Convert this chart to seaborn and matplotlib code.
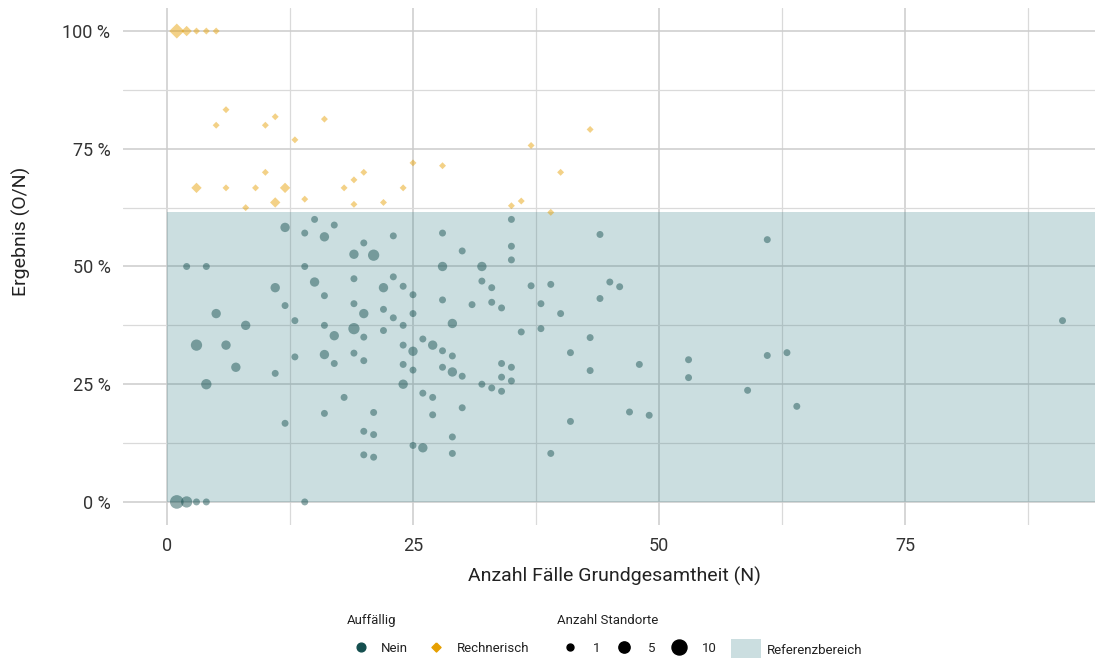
import pandas as pd
import seaborn as sns
import matplotlib.pyplot as plt
from matplotlib.lines import Line2D
from matplotlib.patches import Patch
from matplotlib.ticker import MultipleLocator, FuncFormatter

# Rechnerisch auffällig (Rauten): N, Ergebnis O/N in %, Anzahl Standorte
rech_n = [1, 2, 3, 4, 5, 6, 5, 10, 11, 16,
          13, 3, 6, 9, 10, 12, 8, 11, 14, 18,
          19, 20, 19, 22, 24, 25, 28, 43, 37, 40,
          35, 36, 39]
rech_pct = [100, 100, 100, 100, 100, 83.3, 80.0, 80.0, 81.8, 81.3,
            76.9, 66.7, 66.7, 66.7, 70.0, 66.7, 62.5, 63.6, 64.3, 66.7,
            68.4, 70.0, 63.2, 63.6, 66.7, 72.0, 71.4, 79.1, 75.7, 70.0,
            62.9, 63.9, 61.5]
rech_sites = [10, 4, 1, 1, 1, 1, 1, 1, 1, 1,
              1, 4, 1, 1, 1, 4, 1, 4, 1, 1,
              1, 1, 1, 1, 1, 1, 1, 1, 1, 1,
              1, 1, 1]

# nicht auffällig (Kreise)
nein_n = [12, 15, 17, 14, 16, 20, 23, 28, 19, 21,
          2, 4, 14, 28, 15, 19, 22, 24, 25, 28,
          11, 16, 12, 19, 22, 23, 25, 20, 5, 8,
          13, 16, 19, 17, 20, 22, 24, 25, 24, 26,
          27, 28, 29, 29, 3, 6, 13, 16, 19, 20,
          7, 11, 4, 17, 24, 25, 24, 28, 29, 26,
          27, 30, 27, 18, 16, 21, 12, 20, 21, 25,
          26, 29, 29, 20, 21, 1, 2, 3, 4, 14,
          35, 35, 35, 30, 32, 44, 61, 32, 33, 37,
          39, 45, 46, 44, 31, 33, 34, 38, 40, 36,
          38, 43, 41, 30, 34, 35, 34, 35, 32, 33,
          34, 43, 48, 53, 53, 61, 63, 59, 64, 47,
          49, 41, 39, 91, 23]
nein_pct = [58.3, 60.0, 58.8, 57.1, 56.3, 55.0, 56.5, 57.1, 52.6, 52.4,
            50.0, 50.0, 50.0, 50.0, 46.7, 47.4, 45.5, 45.8, 44.0, 42.9,
            45.5, 43.8, 41.7, 42.1, 40.9, 39.1, 40.0, 40.0, 40.0, 37.5,
            38.5, 37.5, 36.8, 35.3, 35.0, 36.4, 37.5, 32.0, 33.3, 34.6,
            33.3, 32.1, 31.0, 37.9, 33.3, 33.3, 30.8, 31.3, 31.6, 30.0,
            28.6, 27.3, 25.0, 29.4, 29.2, 28.0, 25.0, 28.6, 27.6, 23.1,
            22.2, 20.0, 18.5, 22.2, 18.8, 19.0, 16.7, 15.0, 14.3, 12.0,
            11.5, 13.8, 10.3, 10.0, 9.5, 0, 0, 0, 0, 0,
            60.0, 54.3, 51.4, 53.3, 50.0, 56.8, 55.7, 46.9, 45.5, 45.9,
            46.2, 46.7, 45.7, 43.2, 41.9, 42.4, 41.2, 42.1, 40.0, 36.1,
            36.8, 34.9, 31.7, 26.7, 29.4, 28.6, 26.5, 25.7, 25.0, 24.2,
            23.5, 27.9, 29.2, 30.2, 26.4, 31.1, 31.7, 23.7, 20.3, 19.1,
            18.4, 17.1, 10.3, 38.5, 47.8]
nein_sites = [3, 1, 1, 1, 3, 1, 1, 1, 3, 5,
              1, 1, 1, 3, 3, 1, 3, 1, 1, 1,
              3, 1, 1, 1, 1, 1, 1, 3, 3, 3,
              1, 1, 5, 3, 1, 1, 1, 3, 1, 1,
              3, 1, 1, 3, 5, 3, 1, 3, 1, 1,
              3, 1, 4, 1, 1, 1, 3, 1, 3, 1,
              1, 1, 1, 1, 1, 1, 1, 1, 1, 1,
              3, 1, 1, 1, 1, 8, 5, 1, 1, 1,
              1, 1, 1, 1, 3, 1, 1, 1, 1, 1,
              1, 1, 1, 1, 1, 1, 1, 1, 1, 1,
              1, 1, 1, 1, 1, 1, 1, 1, 1, 1,
              1, 1, 1, 1, 1, 1, 1, 1, 1, 1,
              1, 1, 1, 1, 1]

# Referenzbereich (Ergebnis <= 61,6 %)
ref_low, ref_high = 0, 61.6
x_ticks = [0, 25, 50, 75]
y_ticks = [0, 25, 50, 75, 100]
legend_sizes = [1, 5, 10]

COL_NEIN = '#154f4f'
COL_RECH = '#e69f00'
COL_REF = '#337d85'
SIZE_RANGE = (25, 117)

df = pd.concat([
    pd.DataFrame({'N': nein_n, 'Ergebnis': nein_pct, 'Standorte': nein_sites, 'Auffällig': 'Nein'}),
    pd.DataFrame({'N': rech_n, 'Ergebnis': rech_pct, 'Standorte': rech_sites, 'Auffällig': 'Rechnerisch'}),
], ignore_index=True)

sns.set_style('white')
plt.rcParams['font.family'] = ['Roboto', 'DejaVu Sans']

fig = plt.figure(figsize=(10.95, 6.58), dpi=100)
ax = fig.add_axes([0.1123, 0.2014, 0.8877, 0.7872])

diamond = [(0, 1), (1, 0), (0, -1), (-1, 0), (0, 1)]

ax.fill_between([0, 200], ref_low, ref_high, color=COL_REF, alpha=0.25, lw=0, zorder=1)
sns.scatterplot(data=df, x='N', y='Ergebnis', hue='Auffällig', style='Auffällig',
                size='Standorte', palette={'Nein': COL_NEIN, 'Rechnerisch': COL_RECH},
                markers={'Nein': 'o', 'Rechnerisch': diamond},
                sizes=SIZE_RANGE, size_norm=(1, 10), alpha=0.47, linewidth=0,
                legend=False, ax=ax, zorder=2)

ax.set_xlim(-4.47, 94.3)
ax.set_ylim(-5, 105)
ax.set_xticks(x_ticks)
ax.set_yticks(y_ticks)
ax.xaxis.set_minor_locator(MultipleLocator(12.5))
ax.yaxis.set_minor_locator(MultipleLocator(12.5))
ax.yaxis.set_major_formatter(FuncFormatter(lambda v, p: f'{v:.0f} %'))
ax.set_axisbelow(True)
ax.grid(which='major', color='#cccccc', lw=1.1)
ax.grid(which='minor', color='#dadada', lw=0.9)
sns.despine(ax=ax, left=True, bottom=True)
ax.tick_params(axis='both', which='both', length=0, labelsize=13, labelcolor='#333333')
ax.tick_params(axis='y', pad=9)
ax.tick_params(axis='x', pad=8)

ax.set_xlabel('Anzahl Fälle Grundgesamtheit (N)', fontsize=14, color='#222222')
ax.set_ylabel('Ergebnis (O/N)', fontsize=14, color='#222222')
ax.xaxis.set_label_coords(0.506, -0.099)
ax.yaxis.set_label_coords(-0.104, 0.567)
ax.xaxis.label.set_va('center')
ax.yaxis.label.set_va('center')


def size_to_ms(v):
    s = SIZE_RANGE[0] + (v - 1) / 9 * (SIZE_RANGE[1] - SIZE_RANGE[0])
    return s ** 0.5


leg_kw = dict(loc='upper left', frameon=False, fontsize=9.5, title_fontsize=9.5,
              borderpad=0, borderaxespad=0, labelcolor='#222222', labelspacing=1.1)

h1 = [Line2D([], [], ls='', marker='o', color=COL_NEIN, ms=6.3),
      Line2D([], [], ls='', marker=diamond, color=COL_RECH, ms=6.5)]
leg1 = fig.legend(h1, ['Nein', 'Rechnerisch'], title='Auffällig', ncol=2,
                  bbox_to_anchor=(347 / 1095, 1 - 614 / 658), handlelength=2.1,
                  handletextpad=0.5, columnspacing=1.06, **leg_kw)

h2 = [Line2D([], [], ls='', marker='o', color='black', ms=size_to_ms(v)) for v in legend_sizes]
leg2 = fig.legend(h2, [str(v) for v in legend_sizes], title='Anzahl Standorte', ncol=3,
                  bbox_to_anchor=(557 / 1095, 1 - 614 / 658), handlelength=2.0,
                  handletextpad=0.75, columnspacing=0.8, **leg_kw)

h3 = [Patch(facecolor=COL_REF, alpha=0.25, lw=0)]
leg3 = fig.legend(h3, ['Referenzbereich'], title=' ', ncol=1,
                  bbox_to_anchor=(731 / 1095, 1 - 611 / 658), handlelength=2.3,
                  handleheight=2.4, handletextpad=0.45, **leg_kw)

for leg in (leg1, leg2, leg3):
    leg._legend_box.align = 'left'
    leg.get_title().set_color('#222222')

fig.savefig('out.png', dpi=100)
